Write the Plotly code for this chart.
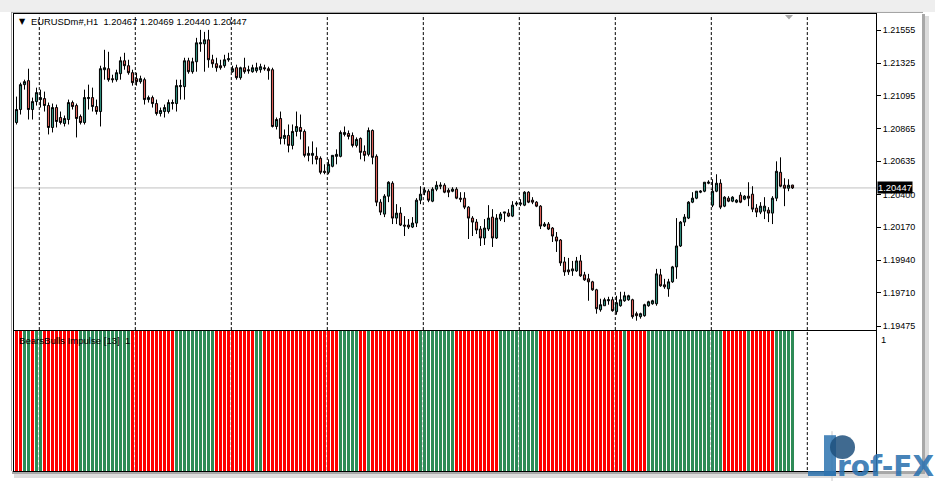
import plotly.graph_objects as go

W, H = 935, 484

symbol = "EURUSDm#,H1"
last_quote = [1.20467, 1.20469, 1.20440, 1.20447]
indicator_name = "BearsBulls Impulse [13]"
indicator_level = "1"

opens = [1.20907, 1.20998, 1.21173, 1.21201, 1.20998, 1.21054, 1.21068, 1.21075, 1.21026, 1.20872,
         1.21012, 1.20942, 1.20900, 1.20928, 1.21047, 1.21026, 1.20949, 1.20907, 1.21075, 1.21082,
         1.21019, 1.20984, 1.21278, 1.21285, 1.21215, 1.21208, 1.21250, 1.21341, 1.21306, 1.21257,
         1.21215, 1.21194, 1.21208, 1.21068, 1.21082, 1.21040, 1.20970, 1.20984, 1.20984, 1.21040,
         1.21040, 1.21159, 1.21159, 1.21341, 1.21264, 1.21334, 1.21460, 1.21460, 1.21488, 1.21348,
         1.21320, 1.21306, 1.21306, 1.21348, 1.21264, 1.21292, 1.21222, 1.21292, 1.21278, 1.21264,
         1.21271, 1.21278, 1.21292, 1.21285, 1.21278, 1.20879, 1.20935, 1.20795, 1.20816, 1.20746,
         1.20844, 1.20872, 1.20844, 1.20676, 1.20676, 1.20669, 1.20655, 1.20564, 1.20557, 1.20599,
         1.20669, 1.20669, 1.20823, 1.20830, 1.20816, 1.20746, 1.20795, 1.20704, 1.20683, 1.20851,
         1.20669, 1.20347, 1.20263, 1.20389, 1.20480, 1.20235, 1.20270, 1.20186, 1.20186, 1.20172,
         1.20200, 1.20361, 1.20417, 1.20424, 1.20354, 1.20438, 1.20459, 1.20466, 1.20431, 1.20424,
         1.20438, 1.20375, 1.20375, 1.20312, 1.20235, 1.20207, 1.20158, 1.20095, 1.20158, 1.20242,
         1.20095, 1.20228, 1.20270, 1.20270, 1.20249, 1.20333, 1.20333, 1.20326, 1.20417, 1.20361,
         1.20347, 1.20319, 1.20179, 1.20193, 1.20165, 1.20102, 1.20081, 1.19927, 1.19871, 1.19864,
         1.19864, 1.19934, 1.19836, 1.19808, 1.19787, 1.19731, 1.19591, 1.19619, 1.19654, 1.19661,
         1.19577, 1.19619, 1.19654, 1.19661, 1.19661, 1.19563, 1.19542, 1.19549, 1.19619, 1.19633,
         1.19633, 1.19836, 1.19766, 1.19738, 1.19787, 1.19892, 1.20039, 1.20207, 1.20235, 1.20347,
         1.20375, 1.20417, 1.20424, 1.20480, 1.20326, 1.20424, 1.20480, 1.20319, 1.20375, 1.20354,
         1.20347, 1.20396, 1.20368, 1.20389, 1.20403, 1.20305, 1.20277, 1.20284, 1.20291, 1.20270,
         1.20375, 1.20557, 1.20466, 1.20445, 1.20467]

highs = [1.21089, 1.21187, 1.21208, 1.21285, 1.21082, 1.21152, 1.21138, 1.21124, 1.21047, 1.21040,
         1.21033, 1.20984, 1.20956, 1.21068, 1.21061, 1.21040, 1.20963, 1.21138, 1.21173, 1.21152,
         1.21068, 1.21306, 1.21418, 1.21404, 1.21243, 1.21278, 1.21369, 1.21397, 1.21348, 1.21278,
         1.21257, 1.21236, 1.21222, 1.21096, 1.21096, 1.21068, 1.21012, 1.21033, 1.21068, 1.21068,
         1.21208, 1.21208, 1.21362, 1.21362, 1.21362, 1.21502, 1.21558, 1.21544, 1.21558, 1.21383,
         1.21362, 1.21348, 1.21383, 1.21397, 1.21306, 1.21313, 1.21299, 1.21362, 1.21306, 1.21313,
         1.21327, 1.21320, 1.21313, 1.21299, 1.21292, 1.20942, 1.20984, 1.20858, 1.20893, 1.20893,
         1.20984, 1.20963, 1.20858, 1.20739, 1.20774, 1.20732, 1.20669, 1.20613, 1.20648, 1.20676,
         1.20718, 1.20851, 1.20879, 1.20851, 1.20837, 1.20802, 1.20802, 1.20746, 1.20872, 1.20858,
         1.20683, 1.20368, 1.20403, 1.20494, 1.20494, 1.20333, 1.20312, 1.20249, 1.20228, 1.20242,
         1.20375, 1.20459, 1.20452, 1.20438, 1.20452, 1.20494, 1.20487, 1.20480, 1.20445, 1.20452,
         1.20452, 1.20417, 1.20417, 1.20319, 1.20249, 1.20228, 1.20179, 1.20228, 1.20326, 1.20298,
         1.20263, 1.20277, 1.20277, 1.20298, 1.20354, 1.20354, 1.20368, 1.20424, 1.20424, 1.20382,
         1.20354, 1.20326, 1.20207, 1.20207, 1.20172, 1.20137, 1.20088, 1.19962, 1.19955, 1.19934,
         1.19962, 1.19976, 1.19857, 1.19843, 1.19794, 1.19738, 1.19668, 1.19675, 1.19682, 1.19682,
         1.19689, 1.19717, 1.19717, 1.19696, 1.19668, 1.19577, 1.19570, 1.19633, 1.19654, 1.19661,
         1.19878, 1.19878, 1.19808, 1.19808, 1.19899, 1.20235, 1.20214, 1.20263, 1.20354, 1.20417,
         1.20424, 1.20431, 1.20487, 1.20501, 1.20508, 1.20543, 1.20508, 1.20389, 1.20389, 1.20389,
         1.20368, 1.20417, 1.20396, 1.20487, 1.20459, 1.20333, 1.20347, 1.20382, 1.20312, 1.20389,
         1.20634, 1.20662, 1.20515, 1.20508, 1.20469]

lows = [1.20893, 1.20963, 1.21138, 1.20928, 1.20928, 1.21026, 1.21012, 1.20984, 1.20823, 1.20837,
        1.20872, 1.20893, 1.20879, 1.20893, 1.20998, 1.20802, 1.20893, 1.20893, 1.20998, 1.20984,
        1.20963, 1.20879, 1.21208, 1.21194, 1.21187, 1.21194, 1.21208, 1.21278, 1.21243, 1.21166,
        1.21166, 1.21180, 1.21033, 1.21047, 1.21012, 1.20956, 1.20949, 1.20942, 1.20970, 1.20998,
        1.20984, 1.21068, 1.21068, 1.21250, 1.21250, 1.21264, 1.21404, 1.21264, 1.21292, 1.21292,
        1.21264, 1.21278, 1.21292, 1.21334, 1.21257, 1.21208, 1.21208, 1.21250, 1.21250, 1.21257,
        1.21257, 1.21257, 1.21271, 1.21208, 1.20872, 1.20858, 1.20753, 1.20753, 1.20697, 1.20718,
        1.20809, 1.20788, 1.20662, 1.20634, 1.20613, 1.20613, 1.20543, 1.20543, 1.20543, 1.20592,
        1.20613, 1.20662, 1.20809, 1.20788, 1.20732, 1.20732, 1.20648, 1.20634, 1.20669, 1.20613,
        1.20319, 1.20256, 1.20242, 1.20347, 1.20193, 1.20193, 1.20179, 1.20109, 1.20158, 1.20165,
        1.20172, 1.20333, 1.20396, 1.20347, 1.20347, 1.20424, 1.20438, 1.20410, 1.20382, 1.20417,
        1.20368, 1.20347, 1.20298, 1.20088, 1.20109, 1.20123, 1.20039, 1.20046, 1.20144, 1.20032,
        1.20088, 1.20214, 1.20207, 1.20242, 1.20242, 1.20319, 1.20319, 1.20319, 1.20340, 1.20333,
        1.20312, 1.20158, 1.20172, 1.20151, 1.20067, 1.19997, 1.19899, 1.19829, 1.19836, 1.19829,
        1.19857, 1.19822, 1.19794, 1.19654, 1.19724, 1.19563, 1.19577, 1.19619, 1.19626, 1.19577,
        1.19556, 1.19612, 1.19647, 1.19654, 1.19528, 1.19514, 1.19528, 1.19542, 1.19612, 1.19626,
        1.19619, 1.19752, 1.19738, 1.19682, 1.19780, 1.19808, 1.20032, 1.20179, 1.20228, 1.20340,
        1.20368, 1.20410, 1.20417, 1.20473, 1.20312, 1.20417, 1.20298, 1.20312, 1.20347, 1.20347,
        1.20340, 1.20340, 1.20361, 1.20319, 1.20277, 1.20242, 1.20263, 1.20228, 1.20207, 1.20193,
        1.20354, 1.20452, 1.20319, 1.20424, 1.20440]

closes = [1.20998, 1.21173, 1.21194, 1.20998, 1.21054, 1.21117, 1.21082, 1.21026, 1.20872, 1.21012,
          1.20914, 1.20907, 1.20935, 1.21047, 1.21019, 1.20935, 1.20907, 1.21082, 1.21082, 1.21019,
          1.20984, 1.21285, 1.21292, 1.21208, 1.21208, 1.21257, 1.21341, 1.21306, 1.21257, 1.21187,
          1.21194, 1.21215, 1.21068, 1.21082, 1.21040, 1.20970, 1.20991, 1.21012, 1.21047, 1.21047,
          1.21166, 1.21166, 1.21341, 1.21264, 1.21334, 1.21467, 1.21467, 1.21488, 1.21348, 1.21320,
          1.21292, 1.21292, 1.21348, 1.21355, 1.21285, 1.21222, 1.21292, 1.21264, 1.21271, 1.21292,
          1.21292, 1.21299, 1.21285, 1.21271, 1.20879, 1.20928, 1.20795, 1.20816, 1.20746, 1.20844,
          1.20879, 1.20844, 1.20676, 1.20690, 1.20690, 1.20648, 1.20557, 1.20557, 1.20613, 1.20676,
          1.20683, 1.20837, 1.20837, 1.20809, 1.20746, 1.20788, 1.20697, 1.20676, 1.20851, 1.20662,
          1.20347, 1.20277, 1.20389, 1.20487, 1.20235, 1.20270, 1.20186, 1.20179, 1.20172, 1.20200,
          1.20361, 1.20403, 1.20431, 1.20361, 1.20438, 1.20466, 1.20466, 1.20417, 1.20417, 1.20438,
          1.20375, 1.20368, 1.20312, 1.20235, 1.20207, 1.20151, 1.20095, 1.20165, 1.20235, 1.20095,
          1.20235, 1.20263, 1.20277, 1.20249, 1.20326, 1.20340, 1.20340, 1.20417, 1.20347, 1.20347,
          1.20319, 1.20179, 1.20193, 1.20158, 1.20109, 1.20074, 1.19920, 1.19857, 1.19857, 1.19878,
          1.19934, 1.19829, 1.19801, 1.19787, 1.19731, 1.19598, 1.19626, 1.19661, 1.19661, 1.19584,
          1.19640, 1.19661, 1.19689, 1.19689, 1.19542, 1.19549, 1.19563, 1.19626, 1.19647, 1.19654,
          1.19843, 1.19759, 1.19752, 1.19787, 1.19892, 1.20039, 1.20207, 1.20242, 1.20347, 1.20375,
          1.20424, 1.20424, 1.20487, 1.20487, 1.20424, 1.20480, 1.20312, 1.20382, 1.20354, 1.20382,
          1.20361, 1.20347, 1.20389, 1.20375, 1.20298, 1.20277, 1.20319, 1.20319, 1.20270, 1.20375,
          1.20564, 1.20459, 1.20445, 1.20466, 1.20447]

# BearsBulls Impulse: +1 bulls, -1 bears
impulse = [-1, -1, 1, 1, -1, 1, 1, -1, -1, -1, -1, -1, -1, -1, -1, -1,
           1, 1, 1, 1, 1, 1, 1, 1, 1, 1, 1, 1, 1,
           -1, -1, -1, -1, -1, -1, -1, -1, -1, -1, -1,
           1, 1, 1, 1, 1, 1, 1, 1, 1, 1,
           -1, -1, -1, -1, -1, -1, -1, -1, -1, -1,
           1, 1,
           -1, -1, -1, -1, -1, -1, -1, -1, -1, -1, -1, -1, -1, -1, -1, -1, -1, -1, -1,
           1, 1, 1, 1, 1,
           -1, -1,
           1,
           -1, -1, -1, -1, -1, -1, -1, -1, -1, -1, -1, -1,
           1, 1, 1, 1, 1, 1, 1, 1, 1,
           -1, -1, -1, -1, -1, -1, -1, -1, -1, -1, -1,
           1, 1, 1, 1, 1, 1, 1, 1, 1, 1,
           -1, -1, -1, -1, -1, -1, -1, -1, -1, -1, -1, -1, -1, -1, -1, -1, -1, -1, -1, -1, -1,
           1,
           -1, -1, -1, -1, -1,
           1, 1, 1, 1, 1, 1, 1, 1, 1, 1, 1, 1, 1, 1, 1, 1, 1, 1, 1,
           -1, -1, -1, -1, -1, -1,
           1,
           -1, -1, -1, -1, -1, -1,
           1, 1, 1, 1, 1]

price_ticks = [1.21555, 1.21325, 1.21095, 1.20865, 1.20635, 1.20400, 1.20170, 1.19940, 1.19710, 1.19475]
day_separators = [5.7, 29.7, 53.7, 77.7, 101.7, 125.7, 149.7, 173.7, 197.7]

bars = list(range(len(opens)))
BULL_C, BEAR_C = "#2E8B7A", "#DC5F58"
IMP_BULL, IMP_BEAR = "#2E8B57", "#FF0000"
FONT = "Liberation Sans, Arial, sans-serif"


def fx(p):
    return p / W


def fy(p):
    return 1 - p / H


fig = go.Figure()
fig.add_trace(go.Candlestick(
    x=bars, open=opens, high=highs, low=lows, close=closes,
    increasing=dict(fillcolor=BULL_C, line=dict(color="black", width=1)),
    decreasing=dict(fillcolor=BEAR_C, line=dict(color="black", width=1)),
    whiskerwidth=0, xaxis="x", yaxis="y", showlegend=False, hoverinfo="skip"))

fig.add_trace(go.Bar(
    x=bars, y=[1] * len(impulse), width=0.75,
    marker=dict(color=[IMP_BULL if v > 0 else IMP_BEAR for v in impulse], line=dict(width=0)),
    xaxis="x2", yaxis="y2", showlegend=False, hoverinfo="skip"))

xr = [-0.625, 214.875]
axis_common = dict(showgrid=False, zeroline=False, showline=True, mirror=True,
                   linecolor="black", linewidth=1)
fig.update_layout(
    width=W, height=H, autosize=False,
    margin=dict(l=0, r=0, t=0, b=0),
    paper_bgcolor="white", plot_bgcolor="white",
    boxgap=0.25,
    bargap=0,
    xaxis=dict(domain=[fx(14), fx(876)], range=xr, showticklabels=False, ticks="",
               anchor="y", rangeslider=dict(visible=False), **axis_common),
    yaxis=dict(domain=[fy(331), fy(14)], range=[1.19451, 1.21670], side="right",
               tickvals=price_ticks, ticktext=[f"{v:.5f}" for v in price_ticks],
               ticks="outside", ticklen=4, tickcolor="black",
               tickfont=dict(family=FONT, size=9, color="black"), anchor="x", **axis_common),
    xaxis2=dict(domain=[fx(14), fx(876)], range=xr, showticklabels=False, ticks="",
                anchor="y2", matches="x", **axis_common),
    yaxis2=dict(domain=[fy(473), fy(332)], range=[0, 1], showticklabels=False, ticks="",
                anchor="x2", **axis_common),
)

shapes = []
# window frame and shadows
shapes.append(dict(type="rect", xref="paper", yref="paper", x0=0, x1=1, y0=fy(12), y1=1,
                   fillcolor="#eeeeee", line=dict(width=0), layer="below"))
shapes.append(dict(type="line", xref="paper", yref="paper", x0=fx(11), x1=fx(923), y0=fy(12.5), y1=fy(12.5),
                   line=dict(color="#a0a0a0", width=1), layer="below"))
shapes.append(dict(type="line", xref="paper", yref="paper", x0=fx(11.5), x1=fx(11.5), y0=fy(473), y1=fy(12),
                   line=dict(color="#a0a0a0", width=1), layer="below"))
shapes.append(dict(type="rect", xref="paper", yref="paper", x0=fx(922), x1=fx(925), y0=fy(478), y1=fy(14),
                   fillcolor="#a8a8a8", line=dict(width=0), layer="below"))
shapes.append(dict(type="rect", xref="paper", yref="paper", x0=fx(925), x1=fx(929), y0=fy(480), y1=fy(16),
                   fillcolor="#dcdcdc", line=dict(width=0), layer="below"))
shapes.append(dict(type="rect", xref="paper", yref="paper", x0=fx(12), x1=fx(925), y0=fy(476), y1=fy(473),
                   fillcolor="#a8a8a8", line=dict(width=0), layer="below"))
shapes.append(dict(type="rect", xref="paper", yref="paper", x0=fx(14), x1=fx(929), y0=fy(480), y1=fy(476),
                   fillcolor="#dcdcdc", line=dict(width=0), layer="below"))
# period separators
for d in day_separators:
    shapes.append(dict(type="line", xref="x", yref="paper", x0=d, x1=d, y0=fy(472), y1=fy(15),
                       line=dict(color="black", width=1, dash="3px,2px"), layer="below"))
# current price line
shapes.append(dict(type="line", xref="paper", yref="y", x0=fx(14), x1=fx(876),
                   y0=last_quote[3], y1=last_quote[3], line=dict(color="#c0c0c0", width=1), layer="below"))
# chart shift marker
shapes.append(dict(type="path", xref="paper", yref="paper",
                   path=f"M {fx(785)} {fy(15)} L {fx(793)} {fy(15)} L {fx(789)} {fy(19.5)} Z",
                   fillcolor="#a8a8a8", line=dict(width=0)))
# logo
shapes.append(dict(type="line", xref="paper", yref="paper", x0=fx(832), x1=fx(832), y0=fy(483), y1=fy(433),
                   line=dict(color="#c8c8c8", width=1)))
shapes.append(dict(type="rect", xref="paper", yref="paper", x0=fx(824), x1=fx(836), y0=fy(478), y1=fy(437),
                   fillcolor="rgba(45,115,175,0.85)", line=dict(width=0)))
shapes.append(dict(type="circle", xref="paper", yref="paper", x0=fx(830), x1=fx(855), y0=fy(461), y1=fy(437),
                   fillcolor="rgba(30,80,125,0.85)", line=dict(width=0)))
shapes.append(dict(type="rect", xref="paper", yref="paper", x0=fx(808), x1=fx(836), y0=fy(478), y1=fy(473),
                   fillcolor="rgba(45,115,175,0.85)", line=dict(width=0)))
fig.update_layout(shapes=shapes)

ann = []
ann.append(dict(xref="paper", yref="paper", x=fx(17), y=fy(21.5), text="▼", showarrow=False,
                xanchor="left", yanchor="middle", font=dict(family="DejaVu Sans", size=8, color="black")))
quote_txt = symbol + "\u00a0\u00a0" + " ".join(f"{v:.5f}" for v in last_quote)
ann.append(dict(xref="paper", yref="paper", x=fx(29), y=fy(22), text=quote_txt, showarrow=False,
                xanchor="left", yanchor="middle", font=dict(family=FONT, size=9.4, color="black")))
ann.append(dict(xref="paper", yref="paper", x=fx(17), y=fy(341.5),
                text=indicator_name + "\u00a0\u00a0" + indicator_level, showarrow=False,
                xanchor="left", yanchor="middle", font=dict(family=FONT, size=9.6, color="black")))
ann.append(dict(xref="paper", yref="paper", x=fx(879), y=fy(340.5), text=indicator_level, showarrow=False,
                xanchor="left", yanchor="middle", font=dict(family=FONT, size=9.4, color="black")))
ann.append(dict(xref="paper", yref="y", x=fx(877), y=last_quote[3], text=f"{last_quote[3]:.5f}",
                showarrow=False, xanchor="left", yanchor="middle", bgcolor="black", borderpad=0,
                font=dict(family=FONT, size=9.4, color="white")))
ann.append(dict(xref="paper", yref="paper", x=fx(835), y=fy(468), text="<b>rof-FX</b>", showarrow=False,
                xanchor="left", yanchor="middle",
                font=dict(family="DejaVu Sans", size=28, color="rgba(45,115,175,0.9)")))
fig.update_layout(annotations=ann)

fig.write_html("out.html", config={"displayModeBar": False, "staticPlot": True},
               post_script="document.body.style.margin='0';document.body.style.overflow='hidden';")
